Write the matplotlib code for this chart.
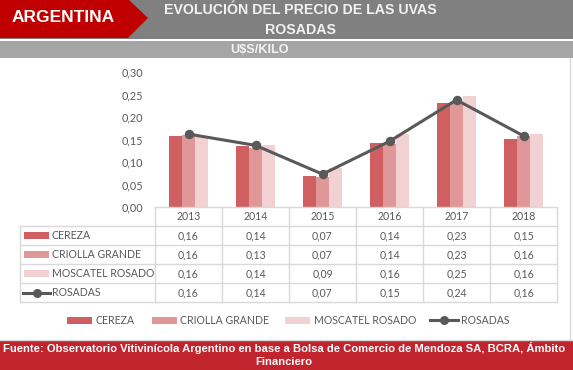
import matplotlib
matplotlib.use("Agg")
import matplotlib.pyplot as plt
from matplotlib.patches import Rectangle, Polygon
from matplotlib.ticker import FuncFormatter
import numpy as np

years = ["2013", "2014", "2015", "2016", "2017", "2018"]
cereza = [0.158, 0.136, 0.068, 0.142, 0.231, 0.151]
criolla = [0.159, 0.132, 0.066, 0.141, 0.232, 0.158]
moscatel = [0.158, 0.137, 0.086, 0.162, 0.246, 0.162]
rosadas = [0.162, 0.137, 0.073, 0.146, 0.238, 0.158]
series_names = ["CEREZA", "CRIOLLA GRANDE", "MOSCATEL ROSADO", "ROSADAS"]
yticks = [0.00, 0.05, 0.10, 0.15, 0.20, 0.25, 0.30]

title_lines = ["EVOLUCIÓN DEL PRECIO DE LAS UVAS", "ROSADAS"]
country = "ARGENTINA"
unit = "U$S/KILO"
source_lines = ["Fuente: Observatorio Vitivinícola Argentino en base a Bolsa de Comercio de Mendoza SA, BCRA, Ámbito",
                "Financiero"]

c_cer = "#D05F61"
c_cri = "#E09797"
c_mos = "#F1D1D2"
c_line = "#595959"
c_text = "#595959"
c_grid = "#D9D9D9"

W, H = 573, 370
fig = plt.figure(figsize=(W / 100, H / 100), dpi=100)
fig.patch.set_facecolor("white")

# overlay axes in pixel coordinates
ov = fig.add_axes([0, 0, 1, 1])
ov.set_xlim(0, W)
ov.set_ylim(H, 0)
ov.axis("off")

# header
ov.add_patch(Rectangle((0, 0), W, 39, color="#808080", lw=0))
ov.add_patch(Polygon([(0, 0), (129, 0), (148, 18), (128, 38), (0, 38)], closed=True, color="#C00000", lw=0))
ov.add_patch(Rectangle((0, 41), W, 17, color="#A5A5A5", lw=0))
ov.text(63, 17, country, ha="center", va="center", color="white", fontsize=12.5,
        fontweight="bold", family="Liberation Sans")
for yy, t in zip([10.5, 30], title_lines):
    ov.text(300, yy, t, ha="center", va="center", color="#F2F2F2", fontsize=10.2,
            fontweight="bold", family="Liberation Sans")
ov.text(260, 50, unit, ha="center", va="center", color="#F2F2F2", fontsize=9.2,
        fontweight="bold", family="Liberation Sans")

# right border
ov.plot([570, 570], [58, 340], color=c_grid, lw=1)

# footer
ov.add_patch(Rectangle((0, 341), W, 29, color="#C1242D", lw=0))
ov.plot([0, W], [340, 340], color=c_grid, lw=1)
for yy, t in zip([348.5, 362], source_lines):
    ov.text(284, yy, t, ha="center", va="center", color="white", fontsize=8.1,
            fontweight="bold", family="Liberation Sans")

# chart axes
x0, x1 = 155, 557
ybot, ytop = 207, 72
ax = fig.add_axes([x0 / W, (H - ybot) / H, (x1 - x0) / W, (ybot - ytop) / H])
ax.set_facecolor("none")
n = len(years)
x = np.arange(n)
bw = 0.19
ax.bar(x - bw, cereza, bw, color=c_cer, lw=0)
ax.bar(x, criolla, bw, color=c_cri, lw=0)
ax.bar(x + bw, moscatel, bw, color=c_mos, lw=0)
ax.plot(x, rosadas, color=c_line, lw=2.2, marker="o", markersize=5.8, zorder=5)
ax.set_xlim(-0.5, n - 0.5)
ax.set_ylim(0, 0.30)
ax.set_yticks(yticks)
ax.yaxis.set_major_formatter(FuncFormatter(lambda v, p: f"{v:.2f}".replace(".", ",")))
ax.tick_params(axis="y", length=0, pad=8.5, labelsize=7.8, labelcolor=c_text)
for lab in ax.get_yticklabels():
    lab.set_family("Lato")
ax.set_xticks([])
for s in ["top", "right", "left"]:
    ax.spines[s].set_visible(False)
ax.spines["bottom"].set_color(c_grid)
ax.spines["bottom"].set_linewidth(1)

# table
cw = (x1 - x0) / n
row_tops = [207, 226, 245, 264, 283, 302]
for yy in row_tops[1:]:
    ov.plot([20, x1], [yy, yy], color=c_grid, lw=1)
ov.plot([20, 20], [226, 302], color=c_grid, lw=1)
for i in range(n + 1):
    ov.plot([x0 + i * cw, x0 + i * cw], [207, 302], color=c_grid, lw=1)

tfont = dict(family="Lato", fontsize=7.6, color=c_text)
for i, yr in enumerate(years):
    ov.text(x0 + (i + 0.5) * cw, 216.5, yr, ha="center", va="center", **tfont)

data = [cereza, criolla, moscatel, rosadas]
colors = [c_cer, c_cri, c_mos, c_line]
for r, (name, vals, col) in enumerate(zip(series_names, data, colors)):
    yc = (row_tops[r + 1] + row_tops[r + 2]) / 2
    if r < 3:
        ov.add_patch(Rectangle((24, yc - 3.5), 25, 7, color=col, lw=0))
    else:
        ov.plot([23, 50], [yc, yc], color=col, lw=2.2)
        ov.plot([36.5], [yc], marker="o", color=col, markersize=5.5)
    ov.text(52, yc, name, ha="left", va="center", **tfont)
    for i, v in enumerate(vals):
        ov.text(x0 + (i + 0.5) * cw, yc, f"{v:.2f}".replace(".", ","), ha="center",
                va="center", **tfont)

# bottom legend
leg_items = [(67, 95), (152, 180), (285, 314), (430, 461)]
ly = 320
for (px, tx), name, col, k in zip(leg_items, series_names, colors, range(4)):
    if k < 3:
        ov.add_patch(Rectangle((px, ly - 3.5), 25, 7, color=col, lw=0))
    else:
        ov.plot([px, px + 28], [ly, ly], color=col, lw=2.2)
        ov.plot([px + 14], [ly], marker="o", color=col, markersize=5.5)
    ov.text(tx, ly, name, ha="left", va="center", **tfont)

fig.savefig("out.png", dpi=100, facecolor=fig.get_facecolor())
